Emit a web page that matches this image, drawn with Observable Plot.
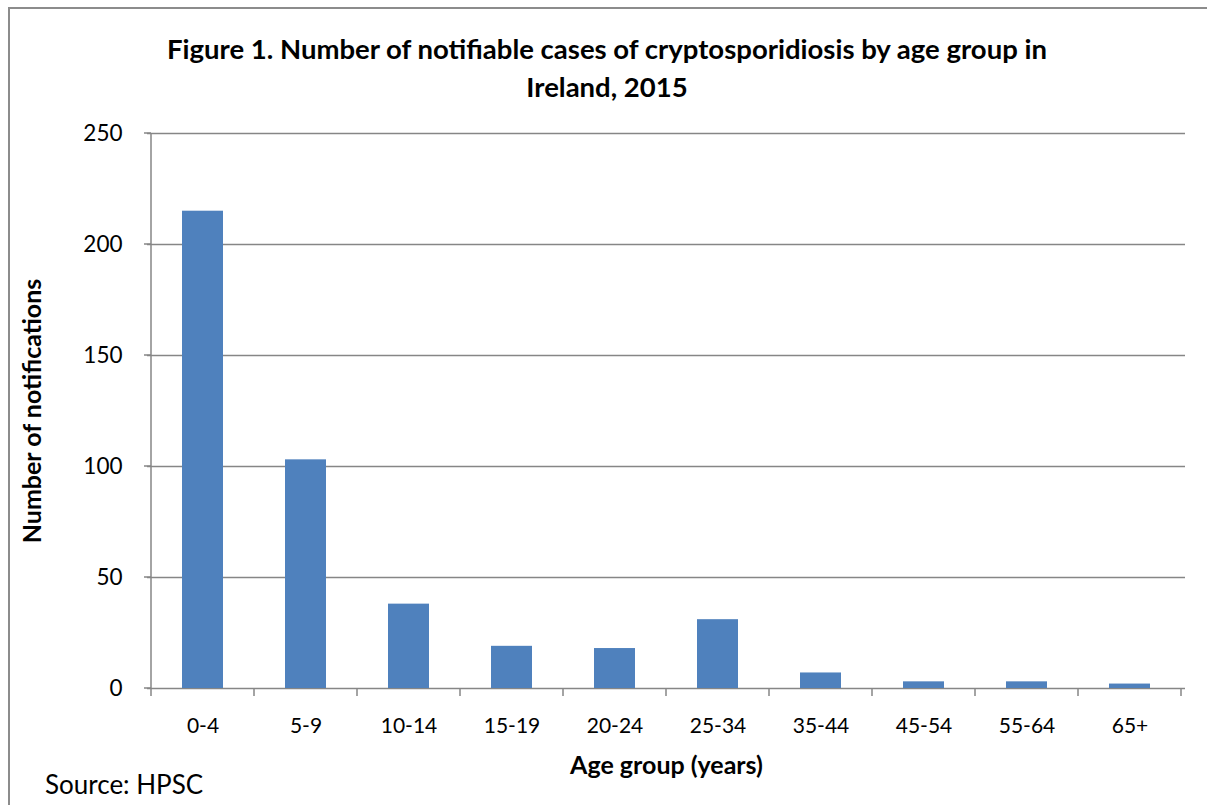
<!DOCTYPE html>
<html>
<head>
<meta charset="utf-8">
<script src="https://cdn.jsdelivr.net/npm/d3@7"></script>
<script src="https://cdn.jsdelivr.net/npm/@observablehq/plot@0.6"></script>
<style>
  html, body { margin: 0; padding: 0; background: #fff; }
  #wrap { position: relative; width: 1207px; height: 805px; overflow: hidden; font-family: Lato, "Open Sans", sans-serif; color: #000; }
  #border { position: absolute; left: 8px; top: 7px; width: 1300px; height: 900px; border-left: 2px solid #8c8c8c; border-top: 2px solid #8c8c8c; }
  #title { position: absolute; left: 0; width: 1214px; top: 30px; text-align: center; font-weight: bold; font-size: 27.5px; line-height: 38px; }
  #chart { position: absolute; left: 0; top: 110px; }
  #source { position: absolute; left: 45px; top: 768px; font-size: 26px; line-height: 32px; }
</style>
</head>
<body>
<div id="wrap">
  <div id="border"></div>
  <div id="title">Figure 1. Number of notifiable cases of cryptosporidiosis by age group in<br>Ireland, 2015</div>
  <div id="chart"></div>
  <div id="source">Source: HPSC</div>
</div>
<script>
const ageGroups = ["0-4", "5-9", "10-14", "15-19", "20-24", "25-34", "35-44", "45-54", "55-64", "65+"];
const notifications = [215, 103, 38, 19, 18, 31, 7, 3, 3, 2];
const yTicks = [0, 50, 100, 150, 200, 250];

const data = ageGroups.map((g, i) => ({group: g, value: notifications[i]}));

const gray = "#868686";
const plot = Plot.plot({
  width: 1207,
  height: 695,
  marginTop: 23,
  marginBottom: 117,
  marginLeft: 147,
  marginRight: 22,
  style: {fontFamily: "Lato, 'Open Sans', sans-serif", fontSize: "21px", color: "#000", background: "transparent"},
  x: {domain: ageGroups, paddingInner: 0.6, paddingOuter: 0.3, label: null},
  y: {domain: [0, 250], ticks: yTicks, label: null},
  marks: [
    Plot.gridY(yTicks, {stroke: gray, strokeOpacity: 1, strokeWidth: 1.5}),
    Plot.barY(data, {x: "group", y: "value", fill: "#4F81BD"}),
    Plot.axisY(yTicks, {tickSize: 0, tickPadding: 25, fontSize: 22.5, label: null}),
    Plot.axisX(ageGroups, {tickSize: 0, tickPadding: 30, fontSize: 21, label: null}),
    Plot.axisY({label: "Number of notifications", labelAnchor: "center", labelArrow: "none", tickSize: 0, ticks: [], labelOffset: 124, fontSize: 25, fontWeight: "bold"}),
    Plot.axisX({label: "Age group (years)", labelAnchor: "center", labelArrow: "none", tickSize: 0, ticks: [], labelOffset: 85, fontSize: 25, fontWeight: "bold"})
  ]
});
document.getElementById("chart").appendChild(plot);

// Excel-style tick marks between categories, and the y axis line, placed through Plot's scales
const xs = plot.scale("x");
const ys = plot.scale("y");
const step = xs.step ?? xs.bandwidth / 0.4;
const svg = d3.select(plot);
const y0 = ys.apply(0), yTop = ys.apply(250);
const bounds = ageGroups.map(g => xs.apply(g) + xs.bandwidth / 2 - step / 2);
bounds.push(xs.apply(ageGroups[ageGroups.length - 1]) + xs.bandwidth / 2 + step / 2);
const g = svg.append("g").attr("stroke", gray).attr("stroke-width", 1.5);
g.selectAll("line.tk").data(bounds).join("line")
  .attr("x1", d => d).attr("x2", d => d).attr("y1", y0).attr("y2", y0 + 8);
g.append("line").attr("x1", bounds[0]).attr("x2", bounds[0]).attr("y1", yTop).attr("y2", y0);
g.selectAll("line.yt").data(yTicks).join("line")
  .attr("x1", bounds[0] - 7).attr("x2", bounds[0]).attr("y1", d => ys.apply(d)).attr("y2", d => ys.apply(d));
</script>
</body>
</html>
